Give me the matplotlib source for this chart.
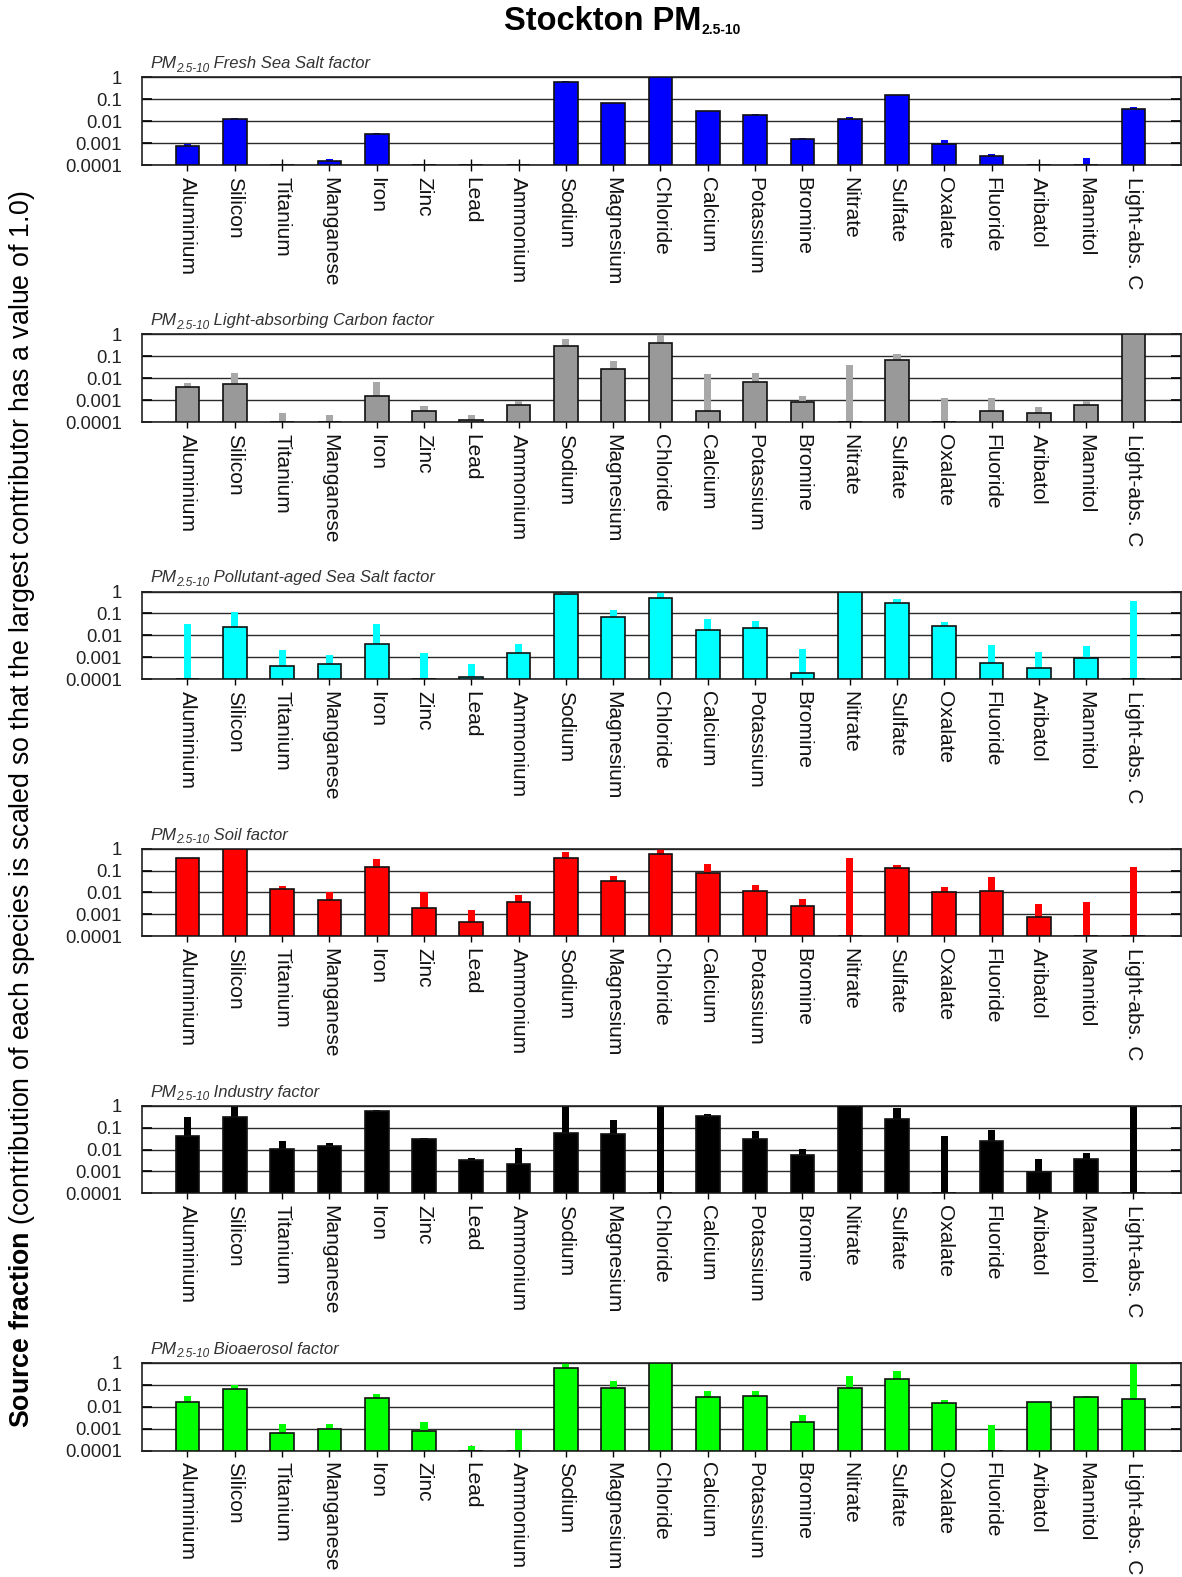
import numpy as np
import matplotlib.pyplot as plt
from matplotlib.ticker import LogLocator, NullFormatter, FixedLocator, FixedFormatter

plt.rcParams['font.family'] = ['Liberation Sans', 'DejaVu Sans']
plt.rcParams['mathtext.fontset'] = 'custom'
plt.rcParams['mathtext.rm'] = 'Liberation Sans'
plt.rcParams['mathtext.it'] = 'Liberation Sans:italic'
plt.rcParams['mathtext.bf'] = 'Liberation Sans:bold'

# === DATA (0 = below 0.0001) ===
species = ['Aluminium', 'Silicon', 'Titanium', 'Manganese', 'Iron', 'Zinc', 'Lead',
           'Ammonium', 'Sodium', 'Magnesium', 'Chloride', 'Calcium', 'Potassium',
           'Bromine', 'Nitrate', 'Sulfate', 'Oxalate', 'Fluoride', 'Aribatol',
           'Mannitol', 'Light-abs. C']

factor_names = ['Fresh Sea Salt factor', 'Light-absorbing Carbon factor',
                'Pollutant-aged Sea Salt factor', 'Soil factor',
                'Industry factor', 'Bioaerosol factor']

fresh_val = [0.0007, 0.013, 0, 0.00016, 0.0026, 0, 0, 0, 0.64, 0.068, 1.0, 0.028, 0.020,
             0.0016, 0.0125, 0.15, 0.00093, 0.00027, 0, 0, 0.036]
fresh_err = [0.0009, 0.0135, 0, 0.00018, 0.0028, 0, 0, 0, 0.65, 0.07, 1.0, 0.029, 0.021,
             0.0017, 0.016, 0.155, 0.0014, 0.00033, 0, 0.0002, 0.042]

carbon_val = [0.0039, 0.0057, 0, 0, 0.0015, 0.00032, 0.00012, 0.0006, 0.29, 0.026, 0.42,
              0.00031, 0.0071, 0.00086, 0, 0.069, 0, 0.00031, 0.00027, 0.00061, 1.0]
carbon_err = [0.0063, 0.018, 0.00027, 0.00021, 0.0066, 0.00056, 0.0002, 0.00095, 0.64, 0.061,
              1.0, 0.015, 0.018, 0.0015, 0.039, 0.13, 0.0013, 0.0013, 0.0005, 0.00096, 1.0]

aged_val = [0, 0.024, 0.00041, 0.00047, 0.0039, 0, 0.00013, 0.0015, 0.73, 0.066, 0.53,
            0.017, 0.021, 0.0002, 1.0, 0.29, 0.028, 0.00053, 0.00032, 0.00096, 0]
aged_err = [0.032, 0.12, 0.0021, 0.0013, 0.033, 0.0015, 0.00051, 0.004, 1.0, 0.15, 1.0,
            0.056, 0.046, 0.0023, 1.0, 0.45, 0.04, 0.0035, 0.0017, 0.0032, 0.38]

soil_val = [0.39, 1.0, 0.015, 0.0044, 0.14, 0.0019, 0.00043, 0.0036, 0.39, 0.032, 0.55,
            0.075, 0.012, 0.0024, 0, 0.13, 0.011, 0.012, 0.00073, 0, 0]
soil_err = [0.39, 1.0, 0.019, 0.01, 0.35, 0.01, 0.0016, 0.0075, 0.73, 0.058, 1.0,
            0.19, 0.023, 0.0051, 0.39, 0.18, 0.018, 0.053, 0.0029, 0.0037, 0.15]

industry_val = [0.043, 0.29, 0.011, 0.015, 0.55, 0.030, 0.0033, 0.0023, 0.055, 0.051, 0,
                0.34, 0.030, 0.0058, 1.0, 0.25, 0, 0.024, 0.00096, 0.0038, 0]
industry_err = [0.30, 1.0, 0.024, 0.019, 0.66, 0.035, 0.004, 0.012, 1.0, 0.23, 1.0,
                0.40, 0.067, 0.011, 1.0, 0.76, 0.040, 0.074, 0.0039, 0.0071, 1.0]

bio_val = [0.017, 0.064, 0.00066, 0.001, 0.024, 0.00076, 0, 0, 0.57, 0.069, 1.0,
           0.028, 0.032, 0.0019, 0.069, 0.19, 0.015, 0, 0.017, 0.028, 0.022]
bio_err = [0.031, 0.097, 0.0016, 0.0017, 0.039, 0.0019, 0.00016, 0.00087, 1.0, 0.15, 1.0,
           0.052, 0.052, 0.0043, 0.25, 0.42, 0.021, 0.0015, 0.017, 0.03, 0.84]

bar_colors = ['#0000ff', '#999999', '#00ffff', '#ff0000', '#000000', '#00ff00']
err_colors = ['#0000ff', '#a8a8a8', '#00ffff', '#ff0000', '#000000', '#00ff00']

all_vals = [fresh_val, carbon_val, aged_val, soil_val, industry_val, bio_val]
all_errs = [fresh_err, carbon_err, aged_err, soil_err, industry_err, bio_err]

FLOOR = 1e-4
W, H = 1182, 1577
fig = plt.figure(figsize=(W / 100, H / 100), dpi=100)
renderer = fig.canvas.get_renderer()


def text_run(x0, y0, parts, center=False):
    # parts: (string, text kwargs, baseline drop in px); x0/y0 in px from top-left
    items, x = [], x0
    for s, kw, dy in parts:
        t = fig.text(x / W, 1 - (y0 + dy) / H, s, ha='left', va='baseline', **kw)
        x += t.get_window_extent(renderer).width
        items.append(t)
    if center:
        shift = (x - x0) / 2 / W
        for t in items:
            t.set_x(t.get_position()[0] - shift)


x = np.arange(len(species))
left_px, right_px = 141.6, 1180.8
top0, step, ax_h = 77.3, 257.1, 87.7

for i in range(6):
    top = top0 + step * i
    ax = fig.add_axes([left_px / W, 1 - (top + ax_h) / H,
                       (right_px - left_px) / W, ax_h / H])
    v = np.maximum(np.array(all_vals[i]), FLOOR)
    e = np.maximum(np.array(all_errs[i]), FLOOR)

    ax.set_yscale('log')
    ax.bar(x, e - FLOOR, bottom=FLOOR, width=0.15, color=err_colors[i],
           linewidth=0, zorder=2)
    ax.bar(x, v - FLOOR, bottom=FLOOR, width=0.5, color=bar_colors[i],
           edgecolor='#111111', linewidth=1.2, zorder=3)

    ax.set_ylim(FLOOR, 1)
    ax.set_xlim(-0.97, len(species))
    ax.yaxis.set_major_locator(FixedLocator([1e-4, 1e-3, 1e-2, 1e-1, 1]))
    ax.yaxis.set_major_formatter(FixedFormatter(['0.0001', '0.001', '0.01', '0.1', '1']))
    ax.yaxis.set_minor_locator(LogLocator(base=10, subs=np.arange(2, 10)))
    ax.yaxis.set_minor_formatter(NullFormatter())
    ax.tick_params(axis='y', which='major', direction='in', length=7, width=1.2,
                   left=True, right=True, labelsize=13.3, pad=14, labelcolor='#222222')
    ax.tick_params(axis='y', which='minor', direction='in', length=4, width=0.8,
                   left=True, right=True)
    ax.set_xticks(x)
    ax.set_xticklabels(species, rotation=-90, fontsize=15, color='#111111')
    ax.tick_params(axis='x', direction='inout', length=9, width=1.0, pad=4)

    ax.set_axisbelow(True)
    ax.yaxis.grid(True, which='major', color='#2a2a2a', linewidth=1.0)
    for s in ax.spines.values():
        s.set_linewidth(1.2)
        s.set_color('#222222')

    lab = dict(style='italic', color='#333333')
    text_run(150, top - 9, [('PM', dict(fontsize=12.5, **lab), 0),
                            ('2.5-10', dict(fontsize=8.5, **lab), 3.5),
                            (' ' + factor_names[i], dict(fontsize=12, **lab), 0)])

# title with a small bold subscript
text_run(622, 30, [('Stockton PM', dict(fontsize=23.5, fontweight='bold'), 0),
                   ('2.5-10', dict(fontsize=10, fontweight='bold'), 4)], center=True)

fig.text(0.019, 0.487,
         r'$\mathbf{Source\ fraction}$ (contribution of each species is scaled so that '
         r'the largest contributor has a value of 1.0)',
         rotation=90, ha='center', va='center', fontsize=19.3)

fig.savefig('out.png', dpi=100, facecolor='white')
plt.close(fig)
